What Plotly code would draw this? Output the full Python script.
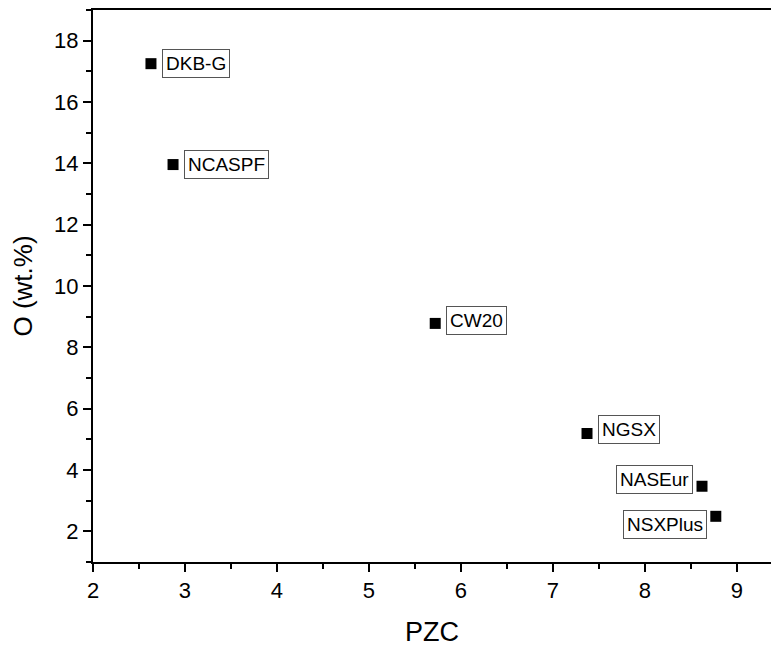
import plotly.graph_objects as go

labels = ["DKB-G", "NCASPF", "CW20", "NGSX", "NASEur", "NSXPlus"]
pzc = [2.63, 2.87, 5.72, 7.37, 8.62, 8.77]
oxygen = [17.25, 13.96, 8.78, 5.19, 3.47, 2.49]
label_side = ["right", "right", "right", "right", "left", "left"]
label_dy = [0, 0, 3, 4, 7, -8]

FONT = "Arial, Liberation Sans, sans-serif"

fig = go.Figure()
fig.add_trace(go.Scatter(
    x=pzc, y=oxygen, mode="markers",
    marker=dict(symbol="square", size=11, color="black", line=dict(width=0)),
    showlegend=False, hoverinfo="skip",
))

for lab, xv, yv, side, dy in zip(labels, pzc, oxygen, label_side, label_dy):
    fig.add_annotation(
        x=xv, y=yv, text=lab, showarrow=False,
        xanchor="left" if side == "right" else "right",
        xshift=11 if side == "right" else -9,
        yshift=dy,
        font=dict(family=FONT, size=19, color="black"),
        bordercolor="#555555", borderwidth=1, borderpad=3,
        bgcolor="white",
    )

fig.update_layout(
    width=771, height=650,
    margin=dict(l=93, r=0, t=10, b=88),
    plot_bgcolor="white", paper_bgcolor="white",
    font=dict(family=FONT, color="black"),
)
fig.update_xaxes(
    range=[2, 9.37], dtick=1, tick0=2,
    showgrid=False, zeroline=False,
    showline=True, linecolor="black", linewidth=2, mirror=True,
    ticks="outside", ticklen=8, tickwidth=2, tickcolor="black",
    minor=dict(dtick=0.5, ticks="outside", ticklen=5, tickwidth=2, tickcolor="black"),
    tickfont=dict(family=FONT, size=22, color="black"),
    title=dict(text="PZC", font=dict(family=FONT, size=27, color="black"), standoff=20),
)
fig.update_yaxes(
    range=[1, 19], dtick=2, tick0=0,
    showgrid=False, zeroline=False,
    showline=True, linecolor="black", linewidth=2,
    ticks="outside", ticklen=8, tickwidth=2, tickcolor="black",
    minor=dict(dtick=1, ticks="outside", ticklen=5, tickwidth=2, tickcolor="black"),
    tickfont=dict(family=FONT, size=22, color="black"),
    title=dict(text="O (wt.%)", font=dict(family=FONT, size=26, color="black"), standoff=14),
)

fig.write_html("out.html")
